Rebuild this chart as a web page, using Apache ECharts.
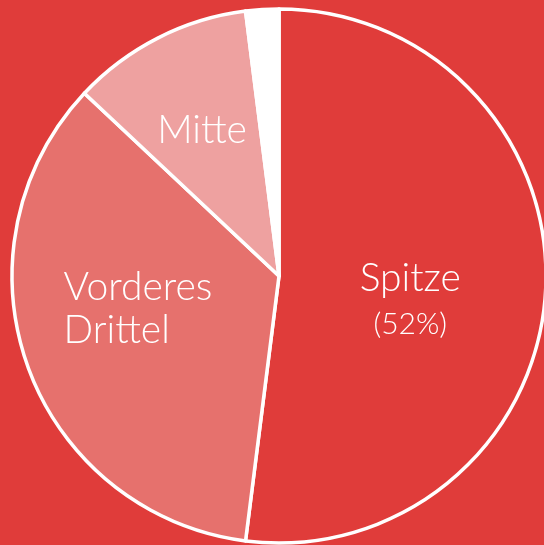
<!DOCTYPE html>
<html>
<head>
<meta charset="utf-8">
<script src="https://cdn.jsdelivr.net/npm/echarts@6/dist/echarts.min.js"></script>
<style>
  html, body { margin: 0; padding: 0; background: #e03c3a; }
  #chart { width: 544px; height: 545px; }
</style>
</head>
<body>
<div id="chart"></div>
<script>
// Anteile je Bereich
var names = ['Spitze', 'Vorderes Drittel', 'Mitte', ''];
var values = [52, 35, 11, 2];
var colors = ['#e03c3a', '#e6716d', '#eea1a0', '#ffffff'];

var myChart = echarts.init(document.getElementById('chart'));

var pieData = [];
for (var i = 0; i < values.length; i++) {
    pieData.push({
        name: names[i],
        value: values[i],
        itemStyle: { color: colors[i] },
        label: { show: names[i] !== '' }
    });
}
pieData[0].label.formatter = '{b}\n{p|({d}%)}';
pieData[0].label.offset = [-5, 17];
pieData[1].label.formatter = '{l|Vorderes}\n{l|Drittel}';
pieData[1].label.offset = [-11, -13];
pieData[2].label.formatter = '{b}';
pieData[2].label.offset = [-15, -24];

var option = {
    backgroundColor: '#e03c3a',
    animation: false,
    series: [
        {
            name: 'Anteil',
            type: 'pie',
            radius: 267,
            center: [279, 276],
            startAngle: 90,
            clockwise: true,
            silent: true,
            data: pieData,
            itemStyle: {
                borderColor: '#ffffff',
                borderWidth: 3.5
            },
            label: {
                position: 'inside',
                color: '#ffffff',
                fontFamily: 'Lato',
                fontWeight: 300,
                fontSize: 39,
                lineHeight: 46,
                rich: {
                    p: { fontSize: 30, lineHeight: 46, color: '#ffffff', fontFamily: 'Lato', fontWeight: 300 },
                    l: { fontSize: 39, lineHeight: 43, width: 152, align: 'left', color: '#ffffff', fontFamily: 'Lato', fontWeight: 300 }
                }
            },
            labelLine: { show: false }
        }
    ]
};
myChart.setOption(option);
</script>
</body>
</html>
